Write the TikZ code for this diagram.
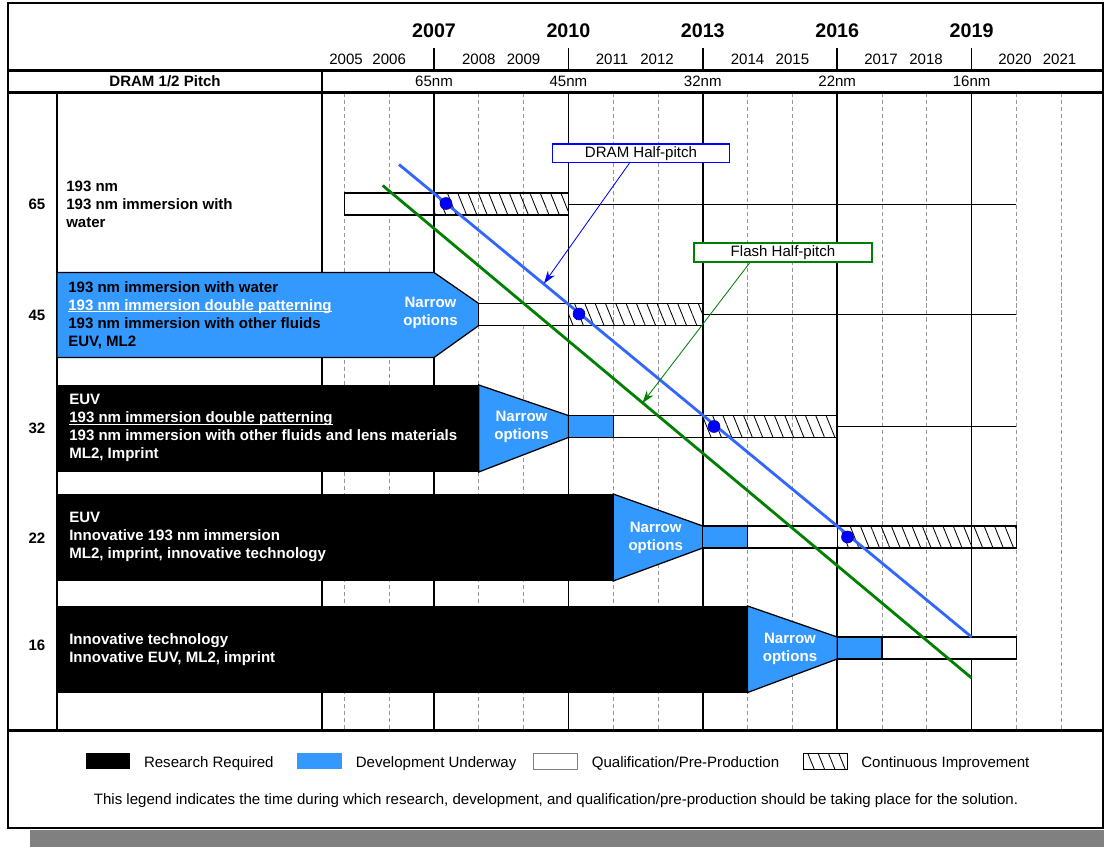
\documentclass[tikz,border=0pt]{standalone}
\usepackage{fontspec}
\setmainfont{Liberation Sans}
\usepackage{tikz}
\usetikzlibrary{
	positioning,
	calc,
	arrows.meta,
	patterns.meta
}
\definecolor{devblue}{RGB}{51,153,255}
\definecolor{dramblue}{RGB}{51,102,255}
\definecolor{calloutblue}{RGB}{0,0,255}
\definecolor{flashgreen}{RGB}{0,128,0}
\definecolor{gridgray}{RGB}{150,150,150}
\definecolor{shadowgray}{RGB}{128,128,128}
\newcommand\underlined[1]{\setbox0\hbox{#1}\rlap{\rule[-1.4pt]{\wd0}{0.6pt}}\box0}
\tikzset{
	frameline/.style={
		line width=1.8pt
	},
	majorline/.style={
		line width=1.1pt
	},
	minorline/.style={
		draw=gridgray,
		line width=0.5pt,
		dash pattern=on 3pt off 2pt
	},
	thinline/.style={
		line width=0.6pt
	},
	barline/.style={
		draw=black,
		line width=0.9pt
	},
	qualbar/.style={
		barline,
		fill=white
	},
	devbar/.style={
		barline,
		fill=devblue
	},
	hatching/.style={
		pattern={Lines[angle=-68,distance=6.8pt,line width=0.6pt]}
	},
	hatchbar/.style={
		barline,
		hatching
	},
	taper/.style={
		fill=devblue,
		draw=black,
		line width=0.9pt
	},
	bigyear/.style={
		font=\fontsize{14}{16}\selectfont\bfseries
	},
	smallyear/.style={
		font=\fontsize{10.7}{12.8}\selectfont
	},
	rownum/.style={
		font=\fontsize{10.7}{12.8}\selectfont\bfseries
	},
	rowtext/.style={
		font=\fontsize{10.7}{12.8}\selectfont\bfseries,
		align=left,
		anchor=west,
		inner sep=0pt
	},
	narrowtext/.style={
		rowtext,
		anchor=center,
		align=center,
		text=white
	},
	trendline/.style={
		line width=2pt
	},
	pitchdot/.style={
		circle,
		fill=blue,
		draw=blue!60!black,
		line width=0.4pt,
		minimum size=0.3cm,
		inner sep=0pt
	},
	calloutbox/.style={
		draw,
		fill=white,
		line width=1pt,
		inner sep=0pt,
		font=\fontsize{10.7}{12.8}\selectfont
	},
	pointer/.style={
		-{Stealth[length=9pt,width=6pt]},
		line width=0.6pt
	},
	swatch/.style={
		minimum width=1.1cm,
		minimum height=0.4cm,
		inner sep=0pt,
		line width=0.6pt
	},
	legendtext/.style={
		font=\fontsize{10.7}{12.8}\selectfont,
		inner sep=0pt
	}
}

\begin{document}
\begin{tikzpicture}[x=0.025cm, y=-0.025cm]
	\useasboundingbox (0,0) rectangle (1104,847);
	\fill[shadowgray] (30,830) rectangle (1104,847);
	\draw[frameline, fill=white] (8,3) rectangle (1103,828);

	\draw[minorline]
		(344.4,92.5) -- (344.4,730.5)
		(389.2,92.5) -- (389.2,730.5)
		(478.8,92.5) -- (478.8,730.5)
		(523.6,92.5) -- (523.6,730.5)
		(613.2,92.5) -- (613.2,730.5)
		(658,92.5) -- (658,730.5)
		(747.6,92.5) -- (747.6,730.5)
		(792.4,92.5) -- (792.4,730.5)
		(882,92.5) -- (882,730.5)
		(926.8,92.5) -- (926.8,730.5)
		(1016.4,92.5) -- (1016.4,730.5)
		(1061.2,92.5) -- (1061.2,730.5);
	\draw[majorline]
		(434,48) -- (434,70.5) (434,92.5) -- (434,730.5)
		(568.4,48) -- (568.4,70.5) (568.4,92.5) -- (568.4,730.5)
		(702.8,48) -- (702.8,70.5) (702.8,92.5) -- (702.8,730.5)
		(837.2,48) -- (837.2,70.5) (837.2,92.5) -- (837.2,730.5)
		(971.6,48) -- (971.6,70.5) (971.6,92.5) -- (971.6,730.5);
	\draw[frameline]
		(8,70.5) -- (1103,70.5)
		(8,92.5) -- (1103,92.5)
		(8,730.5) -- (1103,730.5)
		(322,70.5) -- (322,730.5)
		(57,92.5) -- (57,730.5);

	\node[bigyear] (y2007) at (434,31) {2007};
	\node[bigyear] (y2010) at (568.4,31) {2010};
	\node[bigyear] (y2013) at (702.8,31) {2013};
	\node[bigyear] (y2016) at (837.2,31) {2016};
	\node[bigyear] (y2019) at (971.6,31) {2019};

	\node[smallyear] (y2005) at (346,59) {2005};
	\node[smallyear] (y2006) at (389.2,59) {2006};
	\node[smallyear] (y2008) at (478.8,59) {2008};
	\node[smallyear] (y2009) at (523.6,59) {2009};
	\node[smallyear] (y2011) at (612,59) {2011};
	\node[smallyear] (y2012) at (657,59) {2012};
	\node[smallyear] (y2014) at (747.6,59) {2014};
	\node[smallyear] (y2015) at (792.4,59) {2015};
	\node[smallyear] (y2017) at (881,59) {2017};
	\node[smallyear] (y2018) at (926,59) {2018};
	\node[smallyear] (y2020) at (1015,59) {2020};
	\node[smallyear] (y2021) at (1059.5,59) {2021};

	\node[rownum] (pitchhead) at (165,81.5) {DRAM 1/2 Pitch};
	\node[smallyear] (p65) at (434,81.5) {65nm};
	\node[smallyear] (p45) at (568.4,81.5) {45nm};
	\node[smallyear] (p32) at (702.8,81.5) {32nm};
	\node[smallyear] (p22) at (837.2,81.5) {22nm};
	\node[smallyear] (p16) at (971.6,81.5) {16nm};

	\node[rownum] (n65) at (37,204) {65};
	\node[rownum] (n45) at (37,315) {45};
	\node[rownum] (n32) at (37,428) {32};
	\node[rownum] (n22) at (37,538) {22};
	\node[rownum] (n16) at (37,645) {16};

	\node[rowtext] (t65) at (66,204) {193 nm\\193 nm immersion with\\water};
	\draw[qualbar] (344.4,193) rectangle (434,215);
	\draw[hatchbar] (434,193) rectangle (568.4,215);
	\draw[thinline] (568.4,204) -- (1016.4,204);

	\draw[taper] (57,272.5) -- (434,272.5) -- (478.8,303.5) -- (478.8,325.5) -- (434,357.5) -- (57,357.5) -- cycle;
	\node[rowtext] (t45) at (68,315) {193 nm immersion with water\\\textcolor{white}{\underlined{193 nm immersion double patterning}}\\193 nm immersion with other fluids\\EUV, ML2};
	\node[narrowtext] (o45) at (430.5,312.5) {Narrow\\options};
	\draw[qualbar] (478.8,303.5) rectangle (568.4,325.5);
	\draw[hatchbar] (568.4,303.5) rectangle (702.8,325.5);
	\draw[thinline] (702.8,314.5) -- (1016.4,314.5);

	\fill (57,385) rectangle (478.8,472);
	\draw[taper] (478.8,385) -- (568.4,415.5) -- (568.4,437.5) -- (478.8,472) -- cycle;
	\node[rowtext, text=white] (t32) at (69,428) {EUV\\\underlined{193 nm immersion double patterning}\\193 nm immersion with other fluids and lens materials\\ML2, Imprint};
	\node[narrowtext] (o32) at (521.5,427) {Narrow\\options};
	\draw[devbar] (568.4,415.5) rectangle (613.2,437.5);
	\draw[qualbar] (613.2,415.5) rectangle (702.8,437.5);
	\draw[hatchbar] (702.8,415.5) rectangle (837.2,437.5);
	\draw[thinline] (837.2,426.5) -- (1016.4,426.5);

	\fill (57,494) rectangle (613.2,581);
	\draw[taper] (613.2,494) -- (702.8,526) -- (702.8,548) -- (613.2,581) -- cycle;
	\node[rowtext, text=white] (t22) at (69,537) {EUV\\Innovative 193 nm immersion\\ML2, imprint, innovative technology};
	\node[narrowtext] (o22) at (655.7,537.5) {Narrow\\options};
	\draw[devbar] (702.8,526) rectangle (747.6,548);
	\draw[qualbar] (747.6,526) rectangle (837.2,548);
	\draw[hatchbar] (837.2,526) rectangle (1016.4,548);

	\fill (57,606) rectangle (747.6,692.5);
	\draw[taper] (747.6,606) -- (837.2,637) -- (837.2,659) -- (747.6,692.5) -- cycle;
	\node[rowtext, text=white] (t16) at (69,649.5) {Innovative technology\\Innovative EUV, ML2, imprint};
	\node[narrowtext] (o16) at (790,648.5) {Narrow\\options};
	\draw[devbar] (837.2,637) rectangle (882,659);
	\draw[qualbar] (882,637) rectangle (1016.4,659);

	\coordinate (dramstart) at (399,164.5);
	\coordinate (dramend) at (971.6,637);
	\coordinate (flashstart) at (382.7,185.5);
	\coordinate (flashend) at (971.6,678);
	\draw[trendline, dramblue] (dramstart) -- (dramend);
	\draw[trendline, flashgreen] (flashstart) -- (flashend);

	\node[pitchdot] (d65) at (446,203.5) {};
	\node[pitchdot] (d45) at (579,314) {};
	\node[pitchdot] (d32) at (714,426.5) {};
	\node[pitchdot] (d22) at (847.5,537) {};

	\node[calloutbox, draw=calloutblue, minimum width=4.425cm, minimum height=0.46cm] (dramnote) at (641,153.3) {DRAM Half-pitch};
	\node[calloutbox, draw=flashgreen, minimum width=4.45cm, minimum height=0.475cm] (flashnote) at (783,252.5) {Flash Half-pitch};
	\coordinate (dramtip) at (544,283.5);
	\coordinate (flashtip) at (642.5,403);
	\draw[pointer, calloutblue] ($(dramnote.south west)!0.435!(dramnote.south east)$) -- (dramtip);
	\draw[pointer, flashgreen] ($(flashnote.south west)!0.315!(flashnote.south east)$) -- (flashtip);

	\node[swatch, fill=black] (lr) at (107.7,761) {};
	\node[legendtext, right=0.34cm of lr, yshift=-2pt] (lrtext) {Research Required};
	\node[swatch, fill=devblue] (ld) at (319.5,761) {};
	\node[legendtext, right=0.34cm of ld, yshift=-2pt] (ldtext) {Development Underway};
	\node[swatch, draw=gray, fill=white] (lq) at (555.5,761) {};
	\node[legendtext, right=0.34cm of lq, yshift=-2pt] (lqtext) {Qualification/Pre-Production};
	\node[swatch, draw=black, hatching] (lc) at (825,761) {};
	\node[legendtext, right=0.34cm of lc, yshift=-2pt] (lctext) {Continuous Improvement};
	\node[legendtext] (legendnote) at (556,801) {This legend indicates the time during which research, development, and qualification/pre-production should be taking place for the solution.};
\end{tikzpicture}
\end{document}
